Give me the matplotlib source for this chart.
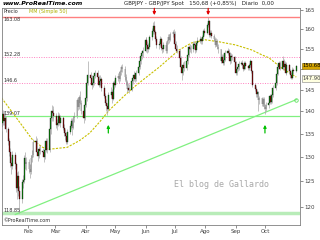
import matplotlib
matplotlib.use("Agg")
import matplotlib.pyplot as plt
import matplotlib.dates as mdates
from matplotlib.ticker import NullLocator
import numpy as np
import pandas as pd

# GBP/JPY daily candles, Jan 5 - Nov 2 2009
dates = pd.bdate_range("2009-01-05", "2009-11-02")

closes = [
    137.5, 139.5, 137.8, 138.6, 136.0,
    133.5, 131.0, 128.8, 128.2, 130.5,
    128.5, 123.6, 126.2, 123.0, 121.5,
    124.8, 125.2, 129.8, 128.5, 128.9,
    127.5, 127.0, 129.8, 130.5, 133.2,
    133.5, 131.0, 130.2, 131.8, 131.4,
    131.0, 130.0, 131.5, 133.5, 131.5,
    136.0, 138.5, 140.0, 139.6, 139.0,
    137.0, 137.5, 139.0, 137.5, 138.6,
    136.4, 135.2, 134.5, 133.2, 135.5,
    136.8, 137.8, 136.2, 138.5, 139.0,
    142.5, 141.0, 143.2, 142.0, 140.0,
    138.5, 141.5, 143.0, 146.6, 148.5,
    147.8, 146.0, 146.5, 148.3, 149.0,
    148.0, 146.2, 147.0, 147.5, 145.5,
    143.5, 142.0, 141.2, 140.5, 143.8,
    144.5, 142.8, 146.5, 146.0, 147.8,
    148.2, 147.5, 149.2, 150.5, 150.0,
    148.0, 146.8, 145.2, 145.5, 145.0,
    147.0, 147.8, 148.5, 147.5, 149.0,
    150.5, 152.0, 153.2, 153.8, 154.5,
    157.2, 156.0, 155.0, 155.5, 157.8,
    159.5, 160.8, 159.2, 157.5, 156.0,
    156.2, 157.5, 155.2, 154.8, 156.0,
    154.5, 156.8, 158.0, 157.2, 158.6,
    159.2, 158.8, 156.2, 155.0, 154.5,
    152.6, 150.5, 149.0, 151.0, 150.2,
    151.8, 153.5, 155.5, 155.0, 154.8,
    156.2, 155.8, 154.6, 156.5, 157.0,
    157.5, 156.8, 157.8, 159.5, 159.0,
    161.0, 162.0, 158.5, 159.0, 158.2,
    157.5, 156.0, 157.0, 155.5, 154.8,
    152.0, 153.0, 151.5, 152.2, 154.0,
    154.5, 153.8, 151.8, 153.2, 152.8,
    151.6, 149.0, 150.0, 150.5, 151.2,
    151.5, 150.8, 150.0, 151.5, 150.6,
    150.2, 150.8, 151.8, 149.5, 146.0,
    145.2, 144.0, 144.5, 142.5, 143.0,
    141.8, 142.8, 141.0, 140.6, 141.5,
    142.0, 143.5, 142.2, 143.8, 145.5,
    146.5, 148.8, 150.5, 151.5, 150.0,
    152.0, 150.5, 151.2, 149.0, 150.8,
    149.5, 148.5, 147.8, 149.8, 149.4,
    150.68,
]

highs = [
    138.4, 140.3, 140.0, 139.5, 139.0,
    136.5, 134.2, 132.0, 130.0, 131.4,
    131.2, 129.0, 127.0, 127.2, 124.0,
    125.5, 126.4, 130.4, 131.0, 130.0,
    129.6, 128.6, 130.5, 131.6, 133.8,
    134.6, 134.2, 131.8, 132.4, 132.6,
    132.0, 131.6, 132.0, 134.0, 134.2,
    136.6, 139.0, 141.5, 141.2, 140.6,
    139.6, 138.4, 139.8, 139.6, 139.2,
    139.0, 137.2, 136.0, 135.4, 136.0,
    137.4, 138.6, 138.4, 139.0, 139.8,
    143.0, 143.2, 143.8, 144.8, 142.6,
    140.6, 142.0, 143.6, 147.2, 152.0,
    149.2, 148.4, 147.4, 148.8, 149.8,
    149.6, 148.6, 147.6, 148.6, 148.0,
    146.0, 144.2, 142.8, 142.0, 144.4,
    145.6, 145.2, 147.0, 147.4, 148.4,
    149.0, 149.4, 149.8, 151.0, 151.2,
    150.6, 148.8, 147.4, 146.6, 146.4,
    147.6, 148.6, 149.4, 149.0, 149.8,
    151.0, 152.6, 154.0, 154.6, 155.4,
    157.8, 158.0, 156.8, 156.4, 158.4,
    160.2, 161.8, 162.0, 159.8, 158.2,
    157.0, 158.2, 158.0, 156.0, 156.6,
    156.6, 157.2, 158.8, 158.6, 159.2,
    159.8, 160.0, 159.4, 156.8, 155.8,
    155.0, 153.2, 151.0, 151.6, 151.8,
    152.4, 154.0, 156.0, 156.2, 155.8,
    156.8, 157.0, 156.4, 157.0, 157.8,
    158.2, 158.0, 158.4, 160.0, 160.2,
    161.6, 163.08, 162.4, 159.8, 159.6,
    158.8, 158.0, 157.6, 157.4, 156.2,
    155.0, 153.6, 153.6, 152.8, 154.6,
    155.2, 155.0, 154.2, 153.8, 153.6,
    153.2, 152.0, 150.4, 150.8, 151.8,
    152.0, 152.2, 151.2, 152.0, 151.8,
    151.0, 151.4, 152.4, 152.0, 149.8,
    146.6, 145.8, 145.0, 144.8, 143.6,
    143.4, 143.4, 143.2, 141.6, 142.2,
    142.6, 144.0, 144.0, 144.4, 146.0,
    147.0, 149.4, 151.0, 152.0, 151.8,
    153.2, 152.4, 151.8, 151.6, 151.4,
    151.2, 150.0, 149.2, 150.4, 150.2,
    151.0,
]

lows = [
    135.6, 137.0, 136.9, 137.2, 135.4,
    132.6, 130.2, 128.0, 126.5, 127.6,
    127.6, 122.8, 121.6, 122.0, 118.85,
    120.8, 123.6, 124.6, 127.6, 127.4,
    126.8, 125.8, 126.6, 129.0, 130.0,
    132.4, 130.4, 129.2, 129.8, 130.6,
    130.2, 129.0, 129.6, 131.0, 130.8,
    131.0, 135.0, 137.8, 138.6, 137.8,
    136.2, 135.8, 136.8, 137.0, 136.6,
    135.8, 134.6, 133.6, 132.8, 132.8,
    135.0, 136.0, 134.8, 136.0, 137.6,
    138.6, 140.4, 140.6, 141.6, 139.4,
    137.4, 138.0, 141.0, 142.4, 146.0,
    147.0, 145.2, 145.6, 146.0, 147.8,
    147.4, 145.6, 145.8, 146.4, 144.8,
    143.0, 141.4, 140.2, 139.3, 140.2,
    143.0, 142.0, 142.6, 145.2, 145.6,
    147.0, 146.6, 147.0, 148.6, 149.2,
    147.4, 146.0, 144.4, 144.6, 144.2,
    144.6, 146.4, 147.0, 146.8, 147.0,
    148.6, 150.0, 151.2, 152.4, 153.0,
    154.2, 155.4, 154.0, 154.2, 155.0,
    157.2, 158.8, 158.6, 156.8, 155.2,
    154.8, 155.6, 154.6, 153.8, 154.2,
    153.8, 154.0, 156.2, 156.4, 156.8,
    157.8, 158.0, 155.6, 154.4, 153.8,
    152.0, 150.0, 147.3, 148.6, 149.4,
    149.8, 151.2, 153.0, 154.2, 154.0,
    154.2, 155.0, 154.0, 154.2, 156.0,
    156.4, 156.2, 156.2, 157.4, 158.4,
    158.6, 160.4, 158.0, 157.8, 157.6,
    157.0, 155.4, 155.6, 155.0, 154.0,
    151.4, 151.6, 150.8, 151.0, 151.8,
    153.4, 153.2, 151.2, 151.4, 152.2,
    151.0, 148.6, 148.4, 149.4, 149.8,
    150.8, 150.2, 149.4, 149.8, 150.0,
    149.6, 149.6, 150.4, 149.0, 145.6,
    144.6, 143.4, 143.4, 140.0, 141.8,
    141.2, 141.2, 140.6, 139.5, 140.2,
    140.8, 141.6, 141.8, 142.0, 143.4,
    145.0, 146.2, 148.4, 150.0, 149.6,
    149.8, 150.0, 150.2, 148.4, 148.8,
    149.0, 147.8, 147.6, 147.6, 148.8,
    149.2,
]
first_open = 136.5

# 50 day simple moving average, read at a few points
ma_dates = ["2009-01-05", "2009-01-24", "2009-02-06", "2009-02-16", "2009-02-23",
            "2009-03-13", "2009-03-26", "2009-04-05", "2009-04-15", "2009-04-25",
            "2009-05-09", "2009-05-19", "2009-06-02", "2009-06-15", "2009-07-05",
            "2009-07-18", "2009-08-01", "2009-08-15", "2009-09-01", "2009-09-18",
            "2009-09-28", "2009-10-05", "2009-10-18", "2009-11-02"]
ma_values = [143.1, 137.4, 133.6, 132.1, 131.7,
             132.1, 133.6, 135.2, 137.6, 140.3,
             143.3, 145.4, 148.0, 150.4, 154.6,
             156.4, 157.2, 156.7, 155.9, 154.6,
             153.4, 152.7, 150.2, 148.0]

# user drawn levels
resistance = 163.08
dotted_levels = [153.0, 146.5]
dotted_labels = ["152.28", "146.6"]
support = 139.07
bottom_level = 118.85
trend_dates = ["2009-01-19", "2009-11-02"]
trend_values = [118.5, 142.7]
red_arrow_dates = ["2009-06-10", "2009-08-04"]
green_arrow_dates = ["2009-04-24", "2009-10-01"]

last_price = "150.68"
ma_last = "147.90"

month_ticks = ["2009-02-01", "2009-03-01", "2009-04-01", "2009-05-01", "2009-06-01",
               "2009-07-01", "2009-08-01", "2009-09-01", "2009-10-01"]
month_labels = ["Feb", "Mar", "Abr", "May", "Jun", "Jul", "Ago", "Sep", "Oct"]
y_ticks = [120, 125, 130, 135, 140, 145, 150, 155, 160, 165]

# ---------------------------------------------------------------
closes = np.array(closes)
highs = np.array(highs)
lows = np.array(lows)
opens = np.r_[first_open, closes[:-1]]
x = mdates.date2num(dates)

fig = plt.figure(figsize=(3.2, 2.4), dpi=100)
ax = fig.add_axes([2 / 320, 15 / 240, 298 / 320, 217 / 240])
ax.set_yscale("log")

feb1 = mdates.date2num(pd.Timestamp("2009-02-01"))
ax.set_xlim(feb1 - 26.6, feb1 + 277.8)
ax.set_ylim(116.5, 165.5)

# horizontal levels
ax.axhline(resistance, color="#ff8080", lw=1.0, zorder=1)
for lv in dotted_levels:
    ax.axhline(lv, color="#ff80c0", lw=0.7, ls=(0, (1, 1.5)), zorder=1)
ax.axhline(support, color="#80f080", lw=0.9, zorder=1)
ax.axhline(bottom_level, color="#b8ecb8", lw=2.5, zorder=1)

td = mdates.date2num(pd.to_datetime(trend_dates))
ax.plot(td, trend_values, color="#80f080", lw=0.9, zorder=1)
ax.plot(td[-1], trend_values[-1], "o", mfc="none", mec="#60e060", ms=2.5, mew=0.6, zorder=1)

# moving average
md = mdates.date2num(pd.to_datetime(ma_dates))
ax.plot(md, ma_values, color="#c8c000", lw=0.8, ls=(0, (2, 1.2)), zorder=2)

# candles
up = closes >= opens
ax.vlines(x, lows, highs, color="#a8a8a8", lw=0.5, zorder=3)
ax.bar(x[up], closes[up] - opens[up], bottom=opens[up], width=0.8,
       color="#008c00", edgecolor="#1a1a1a", linewidth=0.25, zorder=4)
ax.bar(x[~up], opens[~up] - closes[~up], bottom=closes[~up], width=0.8,
       color="#8c0000", edgecolor="#1a1a1a", linewidth=0.25, zorder=4)

# arrows
for d in red_arrow_dates:
    xd = mdates.date2num(pd.Timestamp(d))
    ax.annotate("", xy=(xd, 163.6), xytext=(xd, 165.4),
                arrowprops=dict(arrowstyle="-|>", color="#e00000", lw=0.9,
                                mutation_scale=4, shrinkA=0, shrinkB=0))
for d in green_arrow_dates:
    xd = mdates.date2num(pd.Timestamp(d))
    ax.annotate("", xy=(xd, 137.0), xytext=(xd, 135.2),
                arrowprops=dict(arrowstyle="-|>", color="#00c000", lw=0.9,
                                mutation_scale=4, shrinkA=0, shrinkB=0))

# axes styling
for s in ax.spines.values():
    s.set_color("#808080")
    s.set_linewidth(0.6)
ax.yaxis.tick_right()
ax.yaxis.set_minor_locator(NullLocator())
ax.set_yticks(y_ticks)
# the 150 label sits under the last price box
ax.set_yticklabels(["" if v == 150 else str(v) for v in y_ticks])
ax.set_xticks(mdates.date2num(pd.to_datetime(month_ticks)))
ax.set_xticklabels(month_labels)
ax.tick_params(axis="both", length=2, width=0.5, colors="#606060",
               labelsize=4, pad=1, labelcolor="#404040")

# labels inside the plot
yt = ax.get_yaxis_transform()
lab = dict(transform=yt, fontsize=3.5, color="#303030", ha="left")
ax.text(0.005, resistance, "163.08", va="top", **lab)
ax.text(0.005, dotted_levels[0], dotted_labels[0], va="bottom", **lab)
ax.text(0.005, dotted_levels[1], dotted_labels[1], va="bottom", **lab)
ax.text(0.005, support, "139.07", va="bottom", **lab)
ax.text(0.005, bottom_level, "118.85", va="bottom", **lab)
ax.text(0.005, 0.995, "Precio", transform=ax.transAxes, fontsize=3.5,
        va="top", ha="left", color="#303030")
ax.text(0.09, 0.995, "MM (Simple 50)", transform=ax.transAxes, fontsize=3.5,
        va="top", ha="left", color="#b0b000")
ax.text(0.005, 0.01, "\u00a9ProRealTime.com", transform=ax.transAxes, fontsize=3.5,
        va="bottom", ha="left", color="#303030")
ax.text(0.735, 0.185, "El blog de Gallardo", transform=ax.transAxes,
        fontsize=6, family="DejaVu Sans Mono", color="#a8a8a8",
        ha="center", va="center")

# last price and MA boxes on the right axis
ax.text(1.008, float(last_price), last_price, transform=yt, fontsize=3.8,
        va="center", ha="left", color="black", clip_on=False, zorder=10,
        bbox=dict(boxstyle="square,pad=0.15", fc="#d4a400", ec="#806000", lw=0.4))
ax.text(1.008, 147.6, ma_last, transform=yt, fontsize=3.8,
        va="center", ha="left", color="#404040", clip_on=False, zorder=10,
        bbox=dict(boxstyle="square,pad=0.15", fc="#ffffe0", ec="#808080", lw=0.4))

# header
fig.text(2 / 320, 1 - 1 / 240, "www.ProRealTime.com", fontsize=4.5,
         weight="bold", style="italic", va="top", ha="left")
fig.text(124 / 320, 1 - 1 / 240,
         "GBPJPY - GBP/JPY Spot   150,68 (+0,85%)   Diario  0,00",
         fontsize=4.0, va="top", ha="left", color="#202020")

fig.savefig("out.png", dpi=100)
